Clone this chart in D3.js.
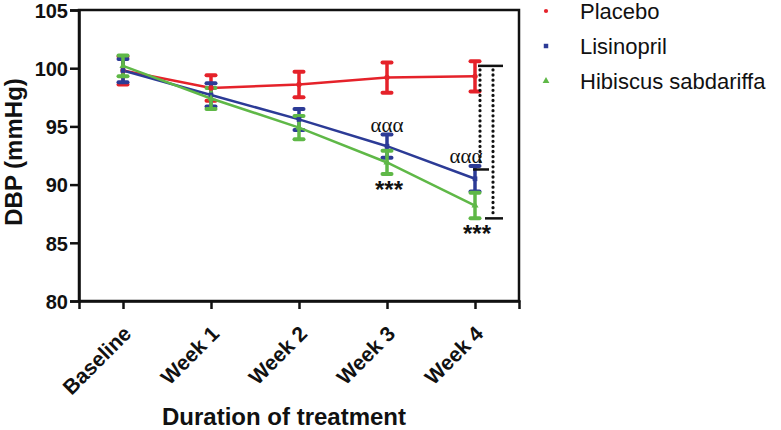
<!DOCTYPE html>
<html><head><meta charset="utf-8">
<script src="https://cdn.jsdelivr.net/npm/d3@7"></script>
<style>body{margin:0;background:#fff}svg{display:block}</style>
</head><body>
<svg id="c" width="781" height="430"></svg>
<script>
const categories = ["Baseline","Week 1","Week 2","Week 3","Week 4"];
const seriesNames = ["Placebo","Lisinopril","Hibiscus sabdariffa"];
const placebo = [99.8, 98.3, 98.6, 99.2, 99.3];
const placeboErr = [1.2, 1.1, 1.1, 1.3, 1.3];
const lisinopril = [99.8, 97.7, 95.6, 93.3, 90.5];
const lisinoprilErr = [1.0, 1.0, 0.9, 1.0, 1.1];
const hibiscus = [100.2, 97.4, 94.9, 91.9, 88.2];
const hibiscusErr = [0.9, 0.9, 1.0, 1.0, 1.1];
const yTicks = [80, 85, 90, 95, 100, 105];
const sigAlpha = [{cat:"Week 3", text:"ααα"}, {cat:"Week 4", text:"ααα"}];
const sigStar = [{cat:"Week 3", text:"***"}, {cat:"Week 4", text:"***"}];
const brackets = [{top:100.2, bottom:91.3, offset:5}, {top:100.2, bottom:87.1, offset:18}];

const colors = ["#e5222a", "#2c3b96", "#5fb847"];
const FONT = "Liberation Sans, Arial, sans-serif";
const svg = d3.select("#c");
const L = 79, R = 519, T = 10, B = 301;
const x = d3.scalePoint().domain(categories).range([L, R]).padding(0.5);
const y = d3.scaleLinear().domain([80, 105]).range([B, T]);

const series = [
  {name: seriesNames[0], v: placebo, e: placeboErr, c: colors[0]},
  {name: seriesNames[1], v: lisinopril, e: lisinoprilErr, c: colors[1]},
  {name: seriesNames[2], v: hibiscus, e: hibiscusErr, c: colors[2]}
];

// frame
svg.append("rect").attr("x", L).attr("y", T).attr("width", R - L).attr("height", B - T)
  .attr("fill", "none").attr("stroke", "#111").attr("stroke-width", 2.5);

// y axis
const ya = svg.append("g").attr("transform", `translate(${L},0)`)
  .call(d3.axisLeft(y).tickValues(yTicks).tickSize(9).tickPadding(2));
ya.select(".domain").attr("stroke-width", 2.5).attr("stroke", "#111");
ya.selectAll(".tick line").attr("stroke-width", 2.5).attr("stroke", "#111");
ya.selectAll(".tick text").attr("font-family", FONT)
  .attr("font-weight", "bold").attr("font-size", 20).attr("fill", "#111").attr("dy", "0.36em");

// x axis
const xa = svg.append("g").attr("transform", `translate(0,${B})`)
  .call(d3.axisBottom(x).tickSize(8).tickPadding(4));
xa.select(".domain").attr("stroke-width", 2.5).attr("stroke", "#111");
xa.selectAll(".tick line").attr("stroke-width", 2.5).attr("stroke", "#111");
xa.selectAll(".tick text").attr("font-family", FONT)
  .attr("font-weight", "bold").attr("font-size", 21).attr("fill", "#111")
  .attr("text-anchor", "end").attr("dy", null).attr("x", 0).attr("y", 0)
  .attr("transform", "translate(9,34) rotate(-45)");

// axis titles
svg.append("text").attr("transform", `translate(22,152) rotate(-90)`)
  .attr("text-anchor", "middle").attr("font-family", FONT)
  .attr("font-weight", "bold").attr("font-size", 24).attr("fill", "#111").text("DBP (mmHg)");
svg.append("text").attr("x", 284).attr("y", 425)
  .attr("text-anchor", "middle").attr("font-family", FONT)
  .attr("font-weight", "bold").attr("font-size", 24).attr("fill", "#111").text("Duration of treatment");

// lines, error bars
const line = d3.line().x((d, i) => x(categories[i])).y(d => y(d));
series.forEach(s => {
  const g = svg.append("g");
  g.append("path").attr("d", line(s.v)).attr("fill", "none").attr("stroke", s.c).attr("stroke-width", 2.5);
  s.v.forEach((v, i) => {
    const cx = x(categories[i]);
    g.append("line").attr("x1", cx).attr("x2", cx).attr("y1", y(v - s.e[i])).attr("y2", y(v + s.e[i]))
      .attr("stroke", s.c).attr("stroke-width", 3.5);
    [v - s.e[i], v + s.e[i]].forEach(ev => {
      g.append("line").attr("x1", cx - 4.5).attr("x2", cx + 4.5).attr("y1", y(ev)).attr("y2", y(ev))
        .attr("stroke", s.c).attr("stroke-width", 4).attr("stroke-linecap", "round");
    });
  });
});

// markers (small)
const sym = [d3.symbolCircle, d3.symbolSquare, d3.symbolTriangle];
series.forEach((s, k) => {
  s.v.forEach((v, i) => {
    svg.append("path").attr("d", d3.symbol(sym[k], 22)())
      .attr("transform", `translate(${x(categories[i])},${y(v)})`).attr("fill", s.c);
  });
});

// significance text
sigAlpha.forEach(a => {
  const i = categories.indexOf(a.cat);
  svg.append("text").attr("x", x(a.cat) - (i === 4 ? 9 : 0)).attr("y", y(lisinopril[i] + lisinoprilErr[i]) - 3)
    .attr("text-anchor", "middle").attr("font-family", "Liberation Serif, Times New Roman, serif")
    .attr("font-size", 21).attr("fill", "#111").text(a.text);
});
sigStar.forEach(a => {
  const i = categories.indexOf(a.cat);
  svg.append("text").attr("x", x(a.cat) + 2).attr("y", y(hibiscus[i] - hibiscusErr[i]) + 24)
    .attr("text-anchor", "middle").attr("font-family", FONT)
    .attr("font-weight", "bold").attr("font-size", 24).attr("fill", "#111").text(a.text);
});

// brackets
const x4 = x("Week 4");
brackets.forEach(b => {
  const bx = x4 + b.offset;
  svg.append("line").attr("x1", bx).attr("x2", bx).attr("y1", y(b.top) + 4).attr("y2", y(b.bottom) - 3)
    .attr("stroke", "#111").attr("stroke-width", 3.2).attr("stroke-linecap", "round")
    .attr("stroke-dasharray", "0.1,5");
});
const cap = (x1, x2, v) => svg.append("line").attr("x1", x1).attr("x2", x2).attr("y1", y(v)).attr("y2", y(v))
  .attr("stroke", "#111").attr("stroke-width", 2.5);
cap(x4 + 3, x4 + 28, brackets[0].top);
cap(x4 - 2, x4 + 14, brackets[0].bottom);
cap(x4 + 10, x4 + 28, brackets[1].bottom);

// legend
series.forEach((s, k) => {
  const ly = 11 + k * 35;
  svg.append("path").attr("d", d3.symbol(sym[k], k === 0 ? 14 : 20)())
    .attr("transform", `translate(546,${ly})`).attr("fill", s.c);
  svg.append("text").attr("x", 580).attr("y", ly + 8).attr("font-family", FONT)
    .attr("font-size", 22).attr("fill", "#111").text(s.name);
});
</script>
</body></html>
